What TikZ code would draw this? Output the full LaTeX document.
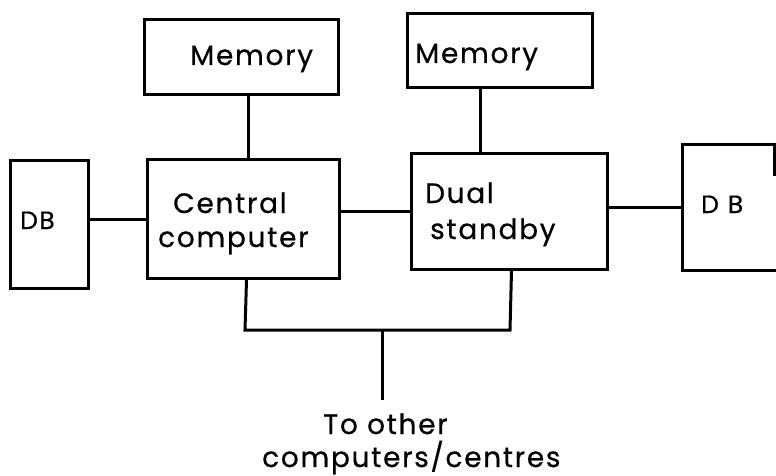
\documentclass[tikz,border=0pt]{standalone}
\usepackage{fontspec}
\setmainfont{Poppins}[LetterSpace=6,FakeBold=0.6]
\begin{document}
\begin{tikzpicture}[x=1pt,y=-1pt,
  box/.style={draw, line width=3pt, inner sep=0pt, anchor=north west},
  wire/.style={line width=3pt},
  lbl/.style={font=\fontsize{28}{32}\selectfont, inner sep=0pt, anchor=base west},
  lbls/.style={font=\fontsize{25}{29}\selectfont, inner sep=0pt, anchor=base west}]
\useasboundingbox (0,0) rectangle (776,476);
% boxes
\node[box, minimum width=194pt, minimum height=75pt] (memL) at (143,18) {};
\node[box, minimum width=192pt, minimum height=119pt] (central) at (146,158) {};
\node[box, minimum width=78pt, minimum height=128pt] (dbL) at (9,159) {};
\node[box, minimum width=185pt, minimum height=74pt] (memR) at (406,12) {};
\node[box, minimum width=196pt, minimum height=116pt] (dual) at (410,152) {};
\node[box, minimum width=112pt, minimum height=126pt] (dbR) at (681,143) {};
\draw[wire] ([yshift=-1.5pt]dbR.north east -| 774,0) -- +(0,31);
% labels
\node[lbl] (tmemL) at (190,65) {Memory};
\node[lbl] (tmemR) at (415,63) {Memory};
\node[lbl] (tcen1) at (173,213) {Central};
\node[lbl] (tcen2) at (158,247) {computer};
\node[lbl] (tdual1) at (425,203) {Dual};
\node[lbl] (tdual2) at (430,239) {standby};
\node[lbls] (tdbL) at (20,229) {DB};
\node[lbls] (tdbR) at (701,213) {D\hspace{9pt}B};
\node[lbl] (to1) at (323,434) {To other};
\node[lbl] (to2) at (262,467) {computers/centres};
% connectors
\draw[wire] ([xshift=7pt]memL.south) -- ([xshift=5pt]central.north);
\draw[wire] (central.west -| dbL.east) -- (central.west);
\draw[wire] (dual.west -| central.east) -- (dual.west);
\draw[wire] ([xshift=-20pt]memR.south) -- ([xshift=-20pt]memR.south |- dual.north);
\draw[wire] (dbR.west -| dual.east) -- (dbR.west);
\coordinate (busL) at (245,330);
\coordinate (busR) at (510,330);
\coordinate (busM) at (382,330);
\coordinate (busEnd) at (382,400);
\draw[wire] ([xshift=3pt]central.south) -- (busL) -- (busR) -- ([xshift=2pt]dual.south);
\draw[wire] (busM) -- (busEnd);
\end{tikzpicture}
\end{document}
